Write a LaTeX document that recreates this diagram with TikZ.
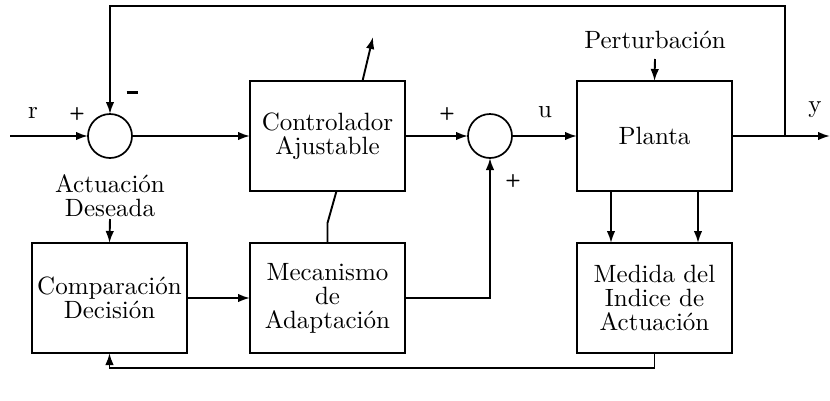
\documentclass[tikz,border=0pt]{standalone}
\usepackage{fontspec}
\setmainfont{lmroman10-regular.otf}
\usetikzlibrary{arrows.meta}
\begin{document}
\begin{tikzpicture}[x=1pt,y=-1pt,
  every node/.style={font=\fontsize{25}{24}\selectfont, outer sep=0pt, inner sep=0pt},
  block/.style={draw, line width=1.9pt, minimum width=155pt, minimum height=110pt, align=center},
  sumnode/.style={draw, circle, line width=1.7pt, minimum size=44pt},
  sign/.style={font=\fontsize{18}{18}\selectfont\bfseries\sffamily},
  wire/.style={line width=1.9pt},
  arrow/.style={wire, -{Latex[length=12pt,width=8.5pt]}},
]
\useasboundingbox (0,0) rectangle (830,400);

% blocks and summing junctions
\node[sumnode] (s1) at (110,136) {};
\node[block] (ctrl) at (327.5,136) {Controlador\\Ajustable};
\node[sumnode] (s2) at (490,136) {};
\node[block] (plant) at (654.5,136) {Planta};
\node[block] (comp) at (109.5,298) {Comparación\\Decisión};
\node[block] (mech) at (327.5,298) {Mecanismo\\de\\Adaptación};
\node[block] (med) at (654.5,298) {Medida del\\Indice de\\Actuación};

% free labels
\node (pert) at (655,40) {Perturbación};
\node[align=center] (des) at (110,196) {Actuación\\Deseada};
\node (rlab) at (33,113) {r};
\node (ulab) at (545,112) {u};
\node (ylab) at (815,110) {y};
\node[sign] (p1) at (77,114) {+};
\node (m1) at (132,92) {\rule{11pt}{3pt}};
\node[sign] (p2) at (447,114) {+};
\node[sign] (p3) at (513,181) {+};

% free ends
\coordinate (in) at (10,136);
\coordinate (out) at (830,136);
\coordinate (tap) at (785,136);
\coordinate (ttop) at (785,6);
\coordinate (adj) at (373,37);
\coordinate (pin) at (655,59);
\coordinate (din) at (110,219);

% signal flow
\draw[arrow] (in) -- (s1);
\draw[arrow] (s1) -- (ctrl);
\draw[arrow] (ctrl) -- (s2);
\draw[arrow] (s2) -- (plant);
\draw[arrow] (plant.east) -- (out);
\draw[arrow] (tap) -- (ttop) -| (s1.north);
\draw[arrow] (pin) -- (plant.north);
\draw[arrow] ([xshift=-43.5pt]plant.south) -- ([xshift=-43.5pt]med.north);
\draw[arrow] ([xshift=43.5pt]plant.south) -- ([xshift=43.5pt]med.north);
\draw[arrow] (med.south) -- ++(0,15) -| (comp.south);
\draw[arrow] (din) -- (comp.north);
\draw[arrow] (comp.east) -- (mech.west);
\draw[arrow] (mech.east) -| (s2.south);
\draw[wire] ([xshift=9pt]ctrl.south) -- ++(-9,32) -- (mech.north);
\draw[arrow] ([xshift=35pt]ctrl.north) -- (adj);
\end{tikzpicture}
\end{document}
